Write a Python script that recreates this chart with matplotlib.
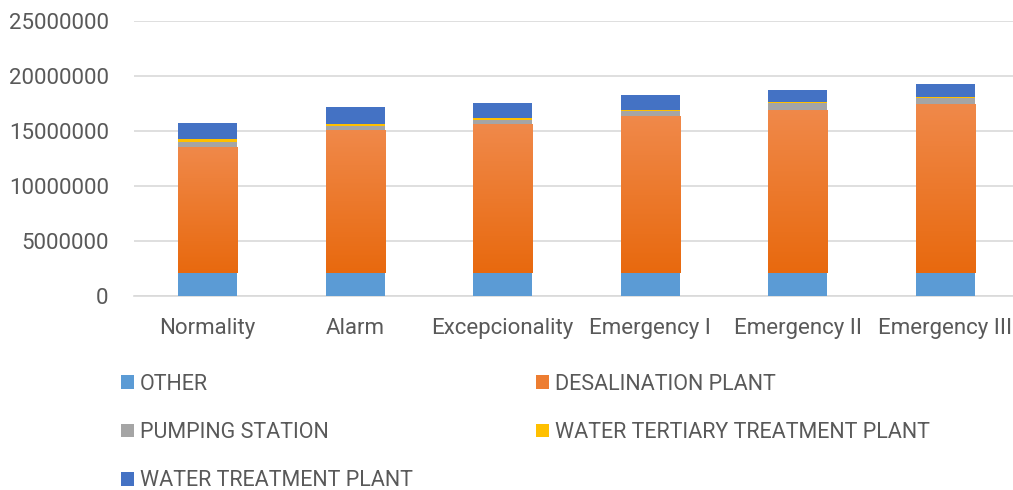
import matplotlib.pyplot as plt
import numpy as np

# Scenario categories and the stacked energy values
categories = ['Normality', 'Alarm', 'Excepcionality', 'Emergency I', 'Emergency II', 'Emergency III']
other = [2100000, 2100000, 2100000, 2100000, 2100000, 2100000]
desalination = [11450000, 13000000, 13500000, 14200000, 14800000, 15300000]
pumping = [450000, 300000, 350000, 450000, 600000, 600000]
tertiary = [250000, 200000, 200000, 150000, 100000, 50000]
treatment = [1450000, 1550000, 1350000, 1370000, 1100000, 1150000]

series = [
    ('OTHER', other, '#5B9BD5'),
    ('DESALINATION PLANT', desalination, '#ED7D31'),
    ('PUMPING STATION', pumping, '#A5A5A5'),
    ('WATER TERTIARY TREATMENT PLANT', tertiary, '#FFC000'),
    ('WATER TREATMENT PLANT', treatment, '#4472C4'),
]

plt.rcParams['font.family'] = ['Roboto', 'DejaVu Sans']
text_color = '#595959'

fig = plt.figure(figsize=(10.13, 4.9), dpi=100)
ax = fig.add_axes([0.132, 0.396, 0.874, 0.562])

x = np.arange(len(categories))
bottom = np.zeros(len(categories))
handles = {}
for name, vals, color in series:
    bars = ax.bar(x, vals, width=0.4, bottom=bottom, color=color, zorder=3, label=name)
    handles[name] = bars
    if name == 'DESALINATION PLANT':
        # soft vertical gradient like the original Excel style
        grad = np.linspace(0, 1, 256).reshape(-1, 1)
        cmap = plt.matplotlib.colors.LinearSegmentedColormap.from_list('g', ['#E8690E', '#F0894A'])
        for b in bars:
            x0, y0 = b.get_x(), b.get_y()
            im = ax.imshow(grad, cmap=cmap, aspect='auto', origin='lower',
                           extent=[x0, x0 + b.get_width(), y0, y0 + b.get_height()], zorder=3.5)
            im.set_clip_path(b)
    bottom += np.array(vals)

ax.set_xlim(-0.5, len(categories) - 0.5)
ax.set_ylim(0, 25000000)
ax.set_yticks(np.arange(0, 25000001, 5000000))
ax.set_yticklabels([str(v) for v in range(0, 25000001, 5000000)])
ax.set_xticks(x)
ax.set_xticklabels(categories)
ax.tick_params(axis='both', length=0, labelsize=16, colors=text_color)
ax.tick_params(axis='x', pad=16)
ax.tick_params(axis='y', pad=18)
ax.grid(axis='y', color='#D9D9D9', linewidth=1.2, zorder=0)
for s in ['top', 'right', 'left']:
    ax.spines[s].set_visible(False)
ax.spines['bottom'].set_color('#D9D9D9')
ax.spines['bottom'].set_linewidth(1.2)

# legend in row order: column-major fill, so reorder handles
order = ['OTHER', 'PUMPING STATION', 'WATER TREATMENT PLANT',
         'DESALINATION PLANT', 'WATER TERTIARY TREATMENT PLANT']
fig.legend([handles[n] for n in order], order, ncol=2, loc='upper left',
           bbox_to_anchor=(0.1, 0.277), frameon=False, fontsize=15.5,
           handlelength=0.6, handleheight=0.6, handletextpad=0.3,
           columnspacing=5.7, labelspacing=1.27, labelcolor=text_color)

fig.savefig('out.png', dpi=100)
